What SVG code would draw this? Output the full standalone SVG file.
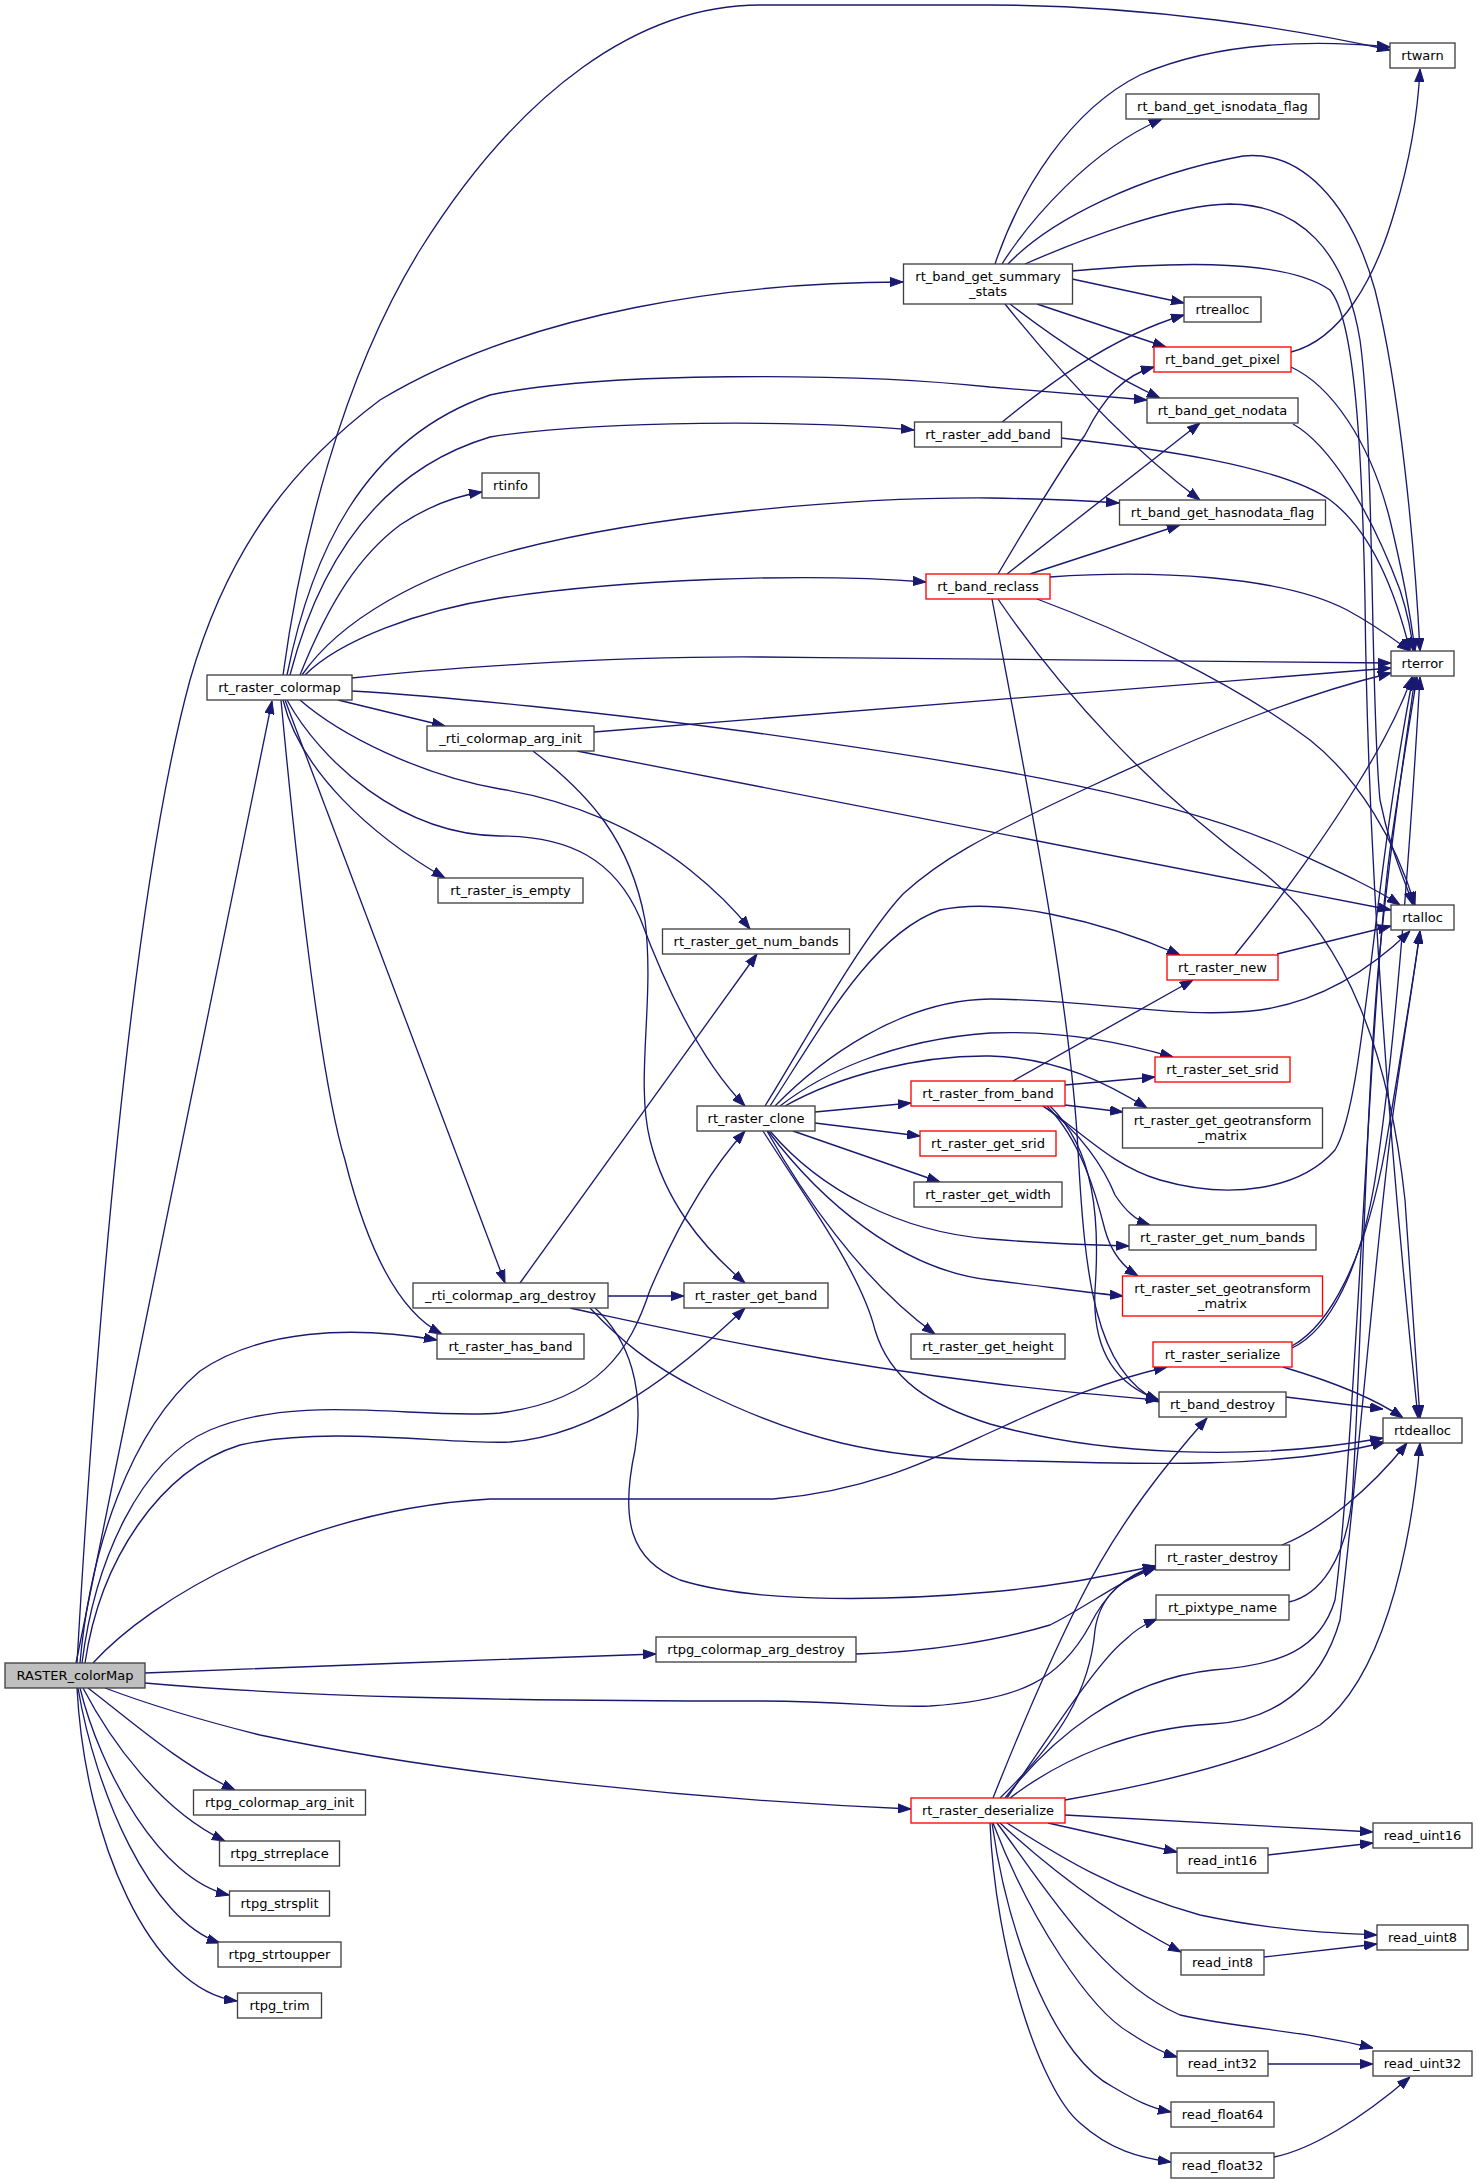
<svg xmlns="http://www.w3.org/2000/svg" width="1477" height="2184" viewBox="0 0 1477 2184">
<style>
.n rect{fill:#ffffff;stroke:#404040;stroke-width:1.33}
.n.r rect{stroke:#ff0000}
.n.m rect{fill:#bfbfbf}
text{font-family:"DejaVu Sans","Liberation Sans",sans-serif;font-size:13px;text-anchor:middle;fill:#000000}
#edges path{fill:none;stroke:#191970;stroke-width:1.33;marker-end:url(#ah)}
</style>
<defs>
<marker id="ah" viewBox="0 0 13 10" markerWidth="13" markerHeight="10" refX="13" refY="5" orient="auto" markerUnits="userSpaceOnUse">
<path d="M0,0.4 L13,5 L0,9.6 z" fill="#191970" stroke="#191970" stroke-width="1"/>
</marker>
</defs>
<rect x="0" y="0" width="1477" height="2184" fill="#ffffff"/>
<g id="edges">
<path d="M76,1663 L272,701"/>
<path d="M77,1663 C95,1350 130,900 190,680 C230,540 300,460 380,400 C530,310 740,282 903,282"/>
<path d="M283,675 C300,550 340,380 420,250 C520,90 640,5 760,5 L990,5 C1150,5 1300,30 1390,50"/>
<path d="M287,675 C310,560 360,440 490,395 C600,372 850,372 990,387 C1060,393 1110,397 1147,400"/>
<path d="M290,675 C320,560 380,470 490,437 C600,420 800,420 914,430"/>
<path d="M300,675 C330,600 360,555 400,525 C430,505 455,496 482,492"/>
<path d="M302,675 C340,620 420,575 515,550 C650,515 850,497 990,498 C1050,499 1090,501 1119,503"/>
<path d="M305,675 C340,640 420,610 500,598 C620,580 800,572 926,582"/>
<path d="M352,678 C420,670 600,656 760,657 C1000,659 1250,663 1391,663"/>
<path d="M352,691 C450,697 600,712 750,732 C950,760 1150,790 1280,845 C1330,868 1370,885 1400,905"/>
<path d="M338,700 L445,726"/>
<path d="M300,700 C340,735 420,775 500,789 C570,800 640,830 690,870 C715,890 735,910 750,929"/>
<path d="M287,700 C320,760 400,835 500,836 C570,836 615,860 640,918 C665,985 700,1060 745,1106"/>
<path d="M283,700 C300,770 370,835 445,878"/>
<path d="M281,700 C295,850 320,1080 345,1160 C365,1240 395,1310 442,1334"/>
<path d="M285,700 L505,1283"/>
<path d="M80,1663 C90,1550 130,1430 200,1371 C260,1330 350,1325 437,1340"/>
<path d="M82,1663 C95,1560 140,1460 210,1430 C300,1392 420,1420 500,1413 C600,1400 630,1350 650,1290 C680,1220 710,1170 745,1131"/>
<path d="M85,1663 C100,1560 160,1470 240,1445 C330,1425 450,1445 510,1442 C600,1435 680,1370 745,1308"/>
<path d="M93,1663 C150,1600 300,1510 490,1499 L773,1499 C880,1490 950,1450 1000,1428 C1060,1400 1110,1380 1167,1367"/>
<path d="M145,1673 C300,1667 500,1659 656,1654"/>
<path d="M145,1683 C300,1697 500,1701 757,1701 C850,1701 880,1708 930,1706 C1020,1700 1060,1680 1090,1625 C1105,1595 1125,1575 1156,1566"/>
<path d="M105,1688 C150,1705 200,1720 260,1735 C450,1775 700,1800 911,1809"/>
<path d="M88,1688 C130,1720 180,1765 235,1790"/>
<path d="M83,1688 C110,1740 160,1810 225,1841"/>
<path d="M80,1688 C100,1770 160,1880 229,1895"/>
<path d="M78,1688 C95,1790 150,1920 220,1943"/>
<path d="M77,1688 C85,1840 150,1990 237,2001"/>
<path d="M594,732 L1391,668"/>
<path d="M577,751 L1391,910"/>
<path d="M533,751 C590,795 630,840 645,920 C655,1000 635,1080 650,1140 C665,1200 700,1245 745,1283"/>
<path d="M520,1283 L757,954"/>
<path d="M608,1296 L684,1296"/>
<path d="M570,1308 C650,1325 800,1360 990,1383 C1060,1392 1110,1396 1159,1400"/>
<path d="M590,1308 C620,1340 650,1365 700,1390 C800,1440 880,1458 990,1460 C1130,1464 1280,1470 1385,1442"/>
<path d="M595,1308 C630,1340 645,1390 635,1450 C620,1520 630,1560 680,1580 C760,1605 900,1600 990,1592 C1060,1586 1110,1575 1156,1566"/>
<path d="M856,1654 C930,1652 1000,1640 1050,1625 C1090,1605 1120,1580 1156,1568"/>
<path d="M815,1112 L911,1103"/>
<path d="M815,1123 L920,1136"/>
<path d="M793,1131 L940,1182"/>
<path d="M767,1131 C800,1190 860,1280 935,1334"/>
<path d="M770,1131 C820,1190 900,1232 990,1239 C1050,1244 1090,1245 1129,1246"/>
<path d="M768,1131 C820,1200 900,1270 990,1280 C1050,1287 1090,1293 1123,1296"/>
<path d="M763,1131 C800,1190 860,1270 875,1330 C890,1380 930,1405 990,1424 C1100,1455 1250,1462 1383,1438"/>
<path d="M765,1106 C800,1050 860,940 903,894 C940,860 980,838 1085,789 C1200,735 1300,695 1391,673"/>
<path d="M770,1106 C820,1030 870,935 940,910 C1000,897 1100,920 1180,955"/>
<path d="M775,1106 C820,1060 900,1000 990,999 C1100,1000 1180,1020 1260,1010 C1330,1000 1380,960 1410,931"/>
<path d="M780,1106 C820,1075 890,1040 990,1033 C1070,1030 1130,1045 1173,1057"/>
<path d="M785,1106 C840,1075 920,1055 990,1056 C1060,1058 1110,1085 1147,1108"/>
<path d="M1065,1085 L1155,1077"/>
<path d="M1013,1081 L1193,980"/>
<path d="M1065,1105 L1123,1112"/>
<path d="M1043,1106 C1080,1130 1105,1170 1115,1195 C1125,1210 1135,1220 1150,1225"/>
<path d="M1047,1106 C1080,1140 1095,1190 1105,1230 C1112,1255 1125,1268 1138,1276"/>
<path d="M1050,1106 C1095,1150 1100,1220 1095,1290 C1092,1350 1115,1385 1159,1400"/>
<path d="M1043,1106 C1080,1130 1110,1165 1160,1180 C1230,1200 1300,1190 1335,1150 C1365,1100 1370,900 1413,677"/>
<path d="M1050,577 C1150,570 1280,575 1347,610 C1375,625 1395,640 1410,651"/>
<path d="M1037,599 C1120,630 1230,680 1310,740 C1360,780 1395,840 1415,905"/>
<path d="M998,599 C1060,690 1150,790 1260,870 C1350,940 1390,1060 1405,1200 C1412,1300 1418,1380 1420,1418"/>
<path d="M992,599 C1030,800 1070,1000 1078,1150 C1085,1280 1095,1370 1159,1402"/>
<path d="M998,574 C1030,520 1060,470 1085,435 C1105,395 1125,375 1154,367"/>
<path d="M1007,574 L1200,423"/>
<path d="M1030,574 L1180,525"/>
<path d="M995,264 C1020,190 1070,110 1140,75 C1220,40 1320,40 1390,47"/>
<path d="M1002,264 C1030,220 1090,150 1162,119"/>
<path d="M1008,264 C1050,220 1140,175 1243,156 C1300,150 1350,200 1375,290 C1400,390 1415,550 1420,651"/>
<path d="M1025,264 C1080,240 1170,205 1230,204 C1300,205 1345,250 1360,340 C1375,450 1370,700 1380,800 C1390,850 1405,880 1413,905"/>
<path d="M1072,271 C1150,264 1280,255 1330,290 C1355,320 1362,450 1365,600 C1368,900 1395,1200 1418,1418"/>
<path d="M1072,279 L1184,303"/>
<path d="M1037,304 L1166,347"/>
<path d="M1010,304 C1050,335 1100,370 1160,398"/>
<path d="M1005,304 C1050,360 1120,440 1200,500"/>
<path d="M1002,422 C1030,400 1100,340 1184,315"/>
<path d="M1061,438 C1150,448 1280,465 1330,500 C1370,530 1395,590 1410,651"/>
<path d="M1291,352 C1340,340 1375,280 1395,210 C1410,160 1418,110 1420,69"/>
<path d="M1291,367 C1330,385 1370,440 1390,520 C1402,570 1410,610 1415,651"/>
<path d="M1293,424 C1330,445 1370,510 1400,590 C1408,615 1412,635 1413,651"/>
<path d="M1235,955 C1280,900 1330,830 1360,780 C1385,740 1400,710 1412,677"/>
<path d="M1277,954 L1391,926"/>
<path d="M1292,1348 C1330,1330 1360,1270 1375,1180 C1395,1050 1410,850 1420,677"/>
<path d="M1292,1346 C1330,1325 1365,1260 1385,1150 C1400,1060 1412,990 1420,931"/>
<path d="M1283,1367 C1320,1378 1370,1395 1403,1418"/>
<path d="M1286,1397 L1383,1409"/>
<path d="M1282,1545 C1320,1530 1370,1490 1407,1443"/>
<path d="M1289,1602 C1320,1595 1345,1560 1352,1500 C1362,1350 1365,1100 1380,950 C1392,830 1405,750 1415,677"/>
<path d="M1005,1798 C1050,1740 1120,1680 1213,1670 C1280,1665 1320,1650 1335,1600 C1355,1450 1370,1000 1390,850 C1400,780 1410,720 1417,677"/>
<path d="M1010,1798 C1060,1760 1130,1728 1213,1724 C1270,1721 1320,1690 1340,1620 C1360,1450 1380,1200 1395,1100 C1405,1030 1415,970 1420,931"/>
<path d="M1065,1800 C1150,1785 1260,1760 1320,1725 C1380,1680 1410,1560 1420,1443"/>
<path d="M993,1798 C1020,1730 1050,1660 1080,1600 C1120,1520 1170,1460 1207,1418"/>
<path d="M1000,1798 C1060,1740 1090,1690 1095,1630 C1100,1595 1125,1575 1157,1567"/>
<path d="M1007,1798 C1060,1720 1100,1660 1125,1640 C1135,1630 1145,1624 1157,1619"/>
<path d="M1065,1815 L1373,1832"/>
<path d="M1048,1823 L1177,1852"/>
<path d="M1007,1823 C1050,1850 1110,1890 1200,1915 C1270,1930 1330,1933 1377,1935"/>
<path d="M1000,1823 C1040,1860 1100,1910 1181,1952"/>
<path d="M997,1823 C1040,1880 1100,1980 1180,2015 C1250,2030 1300,2030 1373,2048"/>
<path d="M993,1823 C1030,1920 1090,2010 1130,2033 C1145,2043 1160,2052 1177,2057"/>
<path d="M992,1823 C1010,1950 1060,2060 1113,2087 C1135,2100 1150,2108 1171,2112"/>
<path d="M990,1823 C995,1950 1040,2090 1080,2123 C1110,2150 1140,2158 1171,2162"/>
<path d="M1268,1855 L1373,1843"/>
<path d="M1264,1957 L1377,1944"/>
<path d="M1268,2064 L1373,2064"/>
<path d="M1274,2157 C1310,2150 1360,2120 1410,2077"/>
</g>
<g id="n_RASTER_colorMap" class="n m"><rect x="5" y="1663" width="140" height="25"/><text x="75" y="1680">RASTER_colorMap</text></g>
<g id="n_rt_raster_colormap" class="n"><rect x="207" y="675" width="145" height="25"/><text x="279.5" y="692">rt_raster_colormap</text></g>
<g id="n_rtpg_colormap_arg_init" class="n"><rect x="193.5" y="1790" width="172" height="25"/><text x="279.5" y="1807">rtpg_colormap_arg_init</text></g>
<g id="n_rtpg_strreplace" class="n"><rect x="219.5" y="1841" width="120" height="25"/><text x="279.5" y="1858">rtpg_strreplace</text></g>
<g id="n_rtpg_strsplit" class="n"><rect x="229.5" y="1891" width="100" height="25"/><text x="279.5" y="1908">rtpg_strsplit</text></g>
<g id="n_rtpg_strtoupper" class="n"><rect x="218" y="1942" width="123" height="25"/><text x="279.5" y="1959">rtpg_strtoupper</text></g>
<g id="n_rtpg_trim" class="n"><rect x="237.5" y="1993" width="84" height="25"/><text x="279.5" y="2010">rtpg_trim</text></g>
<g id="n_rtinfo" class="n"><rect x="482" y="473" width="57" height="25"/><text x="510.5" y="490">rtinfo</text></g>
<g id="n__rti_colormap_arg_init" class="n"><rect x="427" y="726" width="167" height="25"/><text x="510.5" y="743">_rti_colormap_arg_init</text></g>
<g id="n_rt_raster_is_empty" class="n"><rect x="438" y="878" width="145" height="25"/><text x="510.5" y="895">rt_raster_is_empty</text></g>
<g id="n__rti_colormap_arg_destroy" class="n"><rect x="413" y="1283" width="195" height="25"/><text x="510.5" y="1300">_rti_colormap_arg_destroy</text></g>
<g id="n_rt_raster_has_band" class="n"><rect x="437" y="1334" width="147" height="25"/><text x="510.5" y="1351">rt_raster_has_band</text></g>
<g id="n_rt_raster_get_num_bands_a" class="n"><rect x="662.5" y="929" width="187" height="25"/><text x="756" y="946">rt_raster_get_num_bands</text></g>
<g id="n_rt_raster_clone" class="n"><rect x="697" y="1106" width="118" height="25"/><text x="756" y="1123">rt_raster_clone</text></g>
<g id="n_rt_raster_get_band" class="n"><rect x="684" y="1283" width="144" height="25"/><text x="756" y="1300">rt_raster_get_band</text></g>
<g id="n_rtpg_colormap_arg_destroy" class="n"><rect x="656" y="1637" width="200" height="25"/><text x="756" y="1654">rtpg_colormap_arg_destroy</text></g>
<g id="n_rt_band_get_summary_stats" class="n"><rect x="903.5" y="264" width="169" height="40"/><text x="988" y="280.5">rt_band_get_summary</text><text x="988" y="295.5">_stats</text></g>
<g id="n_rt_raster_add_band" class="n"><rect x="914.5" y="422" width="147" height="25"/><text x="988" y="439">rt_raster_add_band</text></g>
<g id="n_rt_band_reclass" class="n r"><rect x="926" y="574" width="124" height="25"/><text x="988" y="591">rt_band_reclass</text></g>
<g id="n_rt_raster_from_band" class="n r"><rect x="911" y="1081" width="154" height="25"/><text x="988" y="1098">rt_raster_from_band</text></g>
<g id="n_rt_raster_get_srid" class="n r"><rect x="920" y="1131" width="136" height="25"/><text x="988" y="1148">rt_raster_get_srid</text></g>
<g id="n_rt_raster_get_width" class="n"><rect x="914" y="1182" width="148" height="25"/><text x="988" y="1199">rt_raster_get_width</text></g>
<g id="n_rt_raster_get_height" class="n"><rect x="911" y="1334" width="154" height="25"/><text x="988" y="1351">rt_raster_get_height</text></g>
<g id="n_rt_raster_deserialize" class="n r"><rect x="911" y="1798" width="154" height="25"/><text x="988" y="1815">rt_raster_deserialize</text></g>
<g id="n_rt_band_get_isnodata_flag" class="n"><rect x="1126" y="94" width="193" height="25"/><text x="1222.5" y="111">rt_band_get_isnodata_flag</text></g>
<g id="n_rtrealloc" class="n"><rect x="1184" y="297" width="77" height="25"/><text x="1222.5" y="314">rtrealloc</text></g>
<g id="n_rt_band_get_pixel" class="n r"><rect x="1154" y="347" width="137" height="25"/><text x="1222.5" y="364">rt_band_get_pixel</text></g>
<g id="n_rt_band_get_nodata" class="n"><rect x="1147" y="398" width="151" height="25"/><text x="1222.5" y="415">rt_band_get_nodata</text></g>
<g id="n_rt_band_get_hasnodata_flag" class="n"><rect x="1119.5" y="500" width="206" height="25"/><text x="1222.5" y="517">rt_band_get_hasnodata_flag</text></g>
<g id="n_rt_raster_new" class="n r"><rect x="1167" y="955" width="111" height="25"/><text x="1222.5" y="972">rt_raster_new</text></g>
<g id="n_rt_raster_set_srid" class="n r"><rect x="1155" y="1057" width="135" height="25"/><text x="1222.5" y="1074">rt_raster_set_srid</text></g>
<g id="n_rt_raster_get_geotransform_matrix" class="n"><rect x="1122.5" y="1108" width="200" height="40"/><text x="1222.5" y="1124.5">rt_raster_get_geotransform</text><text x="1222.5" y="1139.5">_matrix</text></g>
<g id="n_rt_raster_get_num_bands_b" class="n"><rect x="1129" y="1225" width="187" height="25"/><text x="1222.5" y="1242">rt_raster_get_num_bands</text></g>
<g id="n_rt_raster_set_geotransform_matrix" class="n r"><rect x="1122.5" y="1276" width="200" height="40"/><text x="1222.5" y="1292.5">rt_raster_set_geotransform</text><text x="1222.5" y="1307.5">_matrix</text></g>
<g id="n_rt_raster_serialize" class="n r"><rect x="1153" y="1342" width="139" height="25"/><text x="1222.5" y="1359">rt_raster_serialize</text></g>
<g id="n_rt_band_destroy" class="n"><rect x="1159" y="1392" width="127" height="25"/><text x="1222.5" y="1409">rt_band_destroy</text></g>
<g id="n_rt_raster_destroy" class="n"><rect x="1155.5" y="1545" width="134" height="25"/><text x="1222.5" y="1562">rt_raster_destroy</text></g>
<g id="n_rt_pixtype_name" class="n"><rect x="1156" y="1595" width="133" height="25"/><text x="1222.5" y="1612">rt_pixtype_name</text></g>
<g id="n_read_int16" class="n"><rect x="1177" y="1848" width="91" height="25"/><text x="1222.5" y="1865">read_int16</text></g>
<g id="n_read_int8" class="n"><rect x="1181" y="1950" width="83" height="25"/><text x="1222.5" y="1967">read_int8</text></g>
<g id="n_read_int32" class="n"><rect x="1177" y="2051" width="91" height="25"/><text x="1222.5" y="2068">read_int32</text></g>
<g id="n_read_float64" class="n"><rect x="1171" y="2102" width="103" height="25"/><text x="1222.5" y="2119">read_float64</text></g>
<g id="n_read_float32" class="n"><rect x="1171" y="2153" width="103" height="25"/><text x="1222.5" y="2170">read_float32</text></g>
<g id="n_rtwarn" class="n"><rect x="1390" y="43" width="65" height="25"/><text x="1422.5" y="60">rtwarn</text></g>
<g id="n_rterror" class="n"><rect x="1391" y="651" width="63" height="25"/><text x="1422.5" y="668">rterror</text></g>
<g id="n_rtalloc" class="n"><rect x="1391" y="905" width="63" height="25"/><text x="1422.5" y="922">rtalloc</text></g>
<g id="n_rtdealloc" class="n"><rect x="1383" y="1418" width="79" height="25"/><text x="1422.5" y="1435">rtdealloc</text></g>
<g id="n_read_uint16" class="n"><rect x="1373" y="1823" width="99" height="25"/><text x="1422.5" y="1840">read_uint16</text></g>
<g id="n_read_uint8" class="n"><rect x="1377" y="1925" width="91" height="25"/><text x="1422.5" y="1942">read_uint8</text></g>
<g id="n_read_uint32" class="n"><rect x="1373" y="2051" width="99" height="25"/><text x="1422.5" y="2068">read_uint32</text></g>
</svg>
